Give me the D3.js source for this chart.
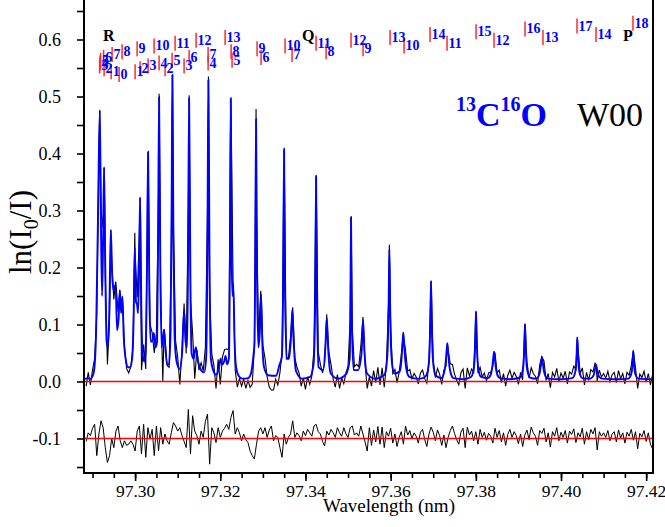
<!DOCTYPE html>
<html>
<head>
<meta charset="utf-8">
<script src="https://cdn.jsdelivr.net/npm/d3@7"></script>
<style>
  body { margin: 0; background: #fff; }
  svg { display: block; }
</style>
</head>
<body>
<svg id="chart" width="665" height="527"></svg>
<script>
// fitted model (blue), [wavelength nm, ln(I0/I)] vertices
const modelPoints = [
  [97.28803, .004], [97.28897, .006], [97.28944, .004], [97.28991, .008], [97.29038, .02], [97.29085, .09],
  [97.29131, .30], [97.29171, .476], [97.29202, .25], [97.29225, .15], [97.29249, .25], [97.29272, .376],
  [97.29300, .20], [97.29331, .07], [97.29366, .06], [97.29401, .15], [97.29430, .266], [97.29460, .19],
  [97.29495, .16], [97.29542, .17], [97.29577, .09], [97.29613, .11], [97.29641, .16], [97.29671, .12],
  [97.29702, .149], [97.29732, .08], [97.29777, .04], [97.29836, .025], [97.29883, .025], [97.29930, .04],
  [97.29965, .11], [97.29993, .235], [97.30021, .14], [97.30047, .135], [97.30070, .12], [97.30094, .2],
  [97.30117, .323], [97.30146, .13], [97.30176, .05], [97.30211, .035], [97.30246, .05], [97.30282, .22],
  [97.30305, .403], [97.30333, .16], [97.30364, .07], [97.30399, .07], [97.30439, .085], [97.30481, .06],
  [97.30516, .07], [97.30540, .25], [97.30563, .499], [97.30592, .2], [97.30622, .06], [97.30657, .08],
  [97.30681, .09], [97.30709, .06], [97.30751, .03], [97.30798, .03], [97.30833, .09], [97.30857, .3],
  [97.30876, .538], [97.30899, .25], [97.30927, .08], [97.30974, .035], [97.31045, .022], [97.31103, .05],
  [97.31150, .125], [97.31185, .07], [97.31221, .06], [97.31244, .22], [97.31268, .497], [97.31296, .2],
  [97.31326, .05], [97.31373, .04], [97.31425, .06], [97.31479, .035], [97.31549, .02], [97.31620, .016],
  [97.31667, .04], [97.31697, .22], [97.31721, .529], [97.31746, .22], [97.31779, .04], [97.31831, .02],
  [97.31901, .012], [97.31972, .025], [97.32007, .04], [97.32042, .03], [97.32089, .035], [97.32124, .045],
  [97.32160, .03], [97.32202, .04], [97.32225, .2], [97.32246, .497], [97.32270, .2], [97.32289, .15],
  [97.32307, .169], [97.32336, .07], [97.32371, .025], [97.32430, .01], [97.32512, .005], [97.32653, .006],
  [97.32723, .015], [97.32777, .045], [97.32805, .07], [97.32822, .22], [97.32840, .46], [97.32864, .18],
  [97.32894, .06], [97.32930, .09], [97.32958, .152], [97.32986, .07], [97.33028, .025], [97.33122, .011],
  [97.33310, .01], [97.33392, .03], [97.33444, .043], [97.33474, .15], [97.33498, .407], [97.33521, .15],
  [97.33561, .04], [97.33615, .04], [97.33662, .08], [97.33692, .125], [97.33723, .07], [97.33779, .018],
  [97.33920, .005], [97.34108, .008], [97.34190, .03], [97.34230, .15], [97.34249, .36], [97.34270, .15],
  [97.34308, .025], [97.34413, .02], [97.34467, .06], [97.34500, .112], [97.34531, .06], [97.34589, .015],
  [97.34765, .005], [97.34953, .013], [97.35040, .04], [97.35054, .12], [97.35070, .288], [97.35089, .11],
  [97.35129, .02], [97.35235, .02], [97.35317, .05], [97.35352, .108], [97.35387, .05], [97.35446, .014],
  [97.35634, .005],
  [97.35853, .012], [97.35900, .027], [97.35935, .068], [97.35954, .14], [97.35970, .232], [97.35986, .14],
  [97.36005, .068], [97.36040, .027], [97.36087, .014],
  [97.36216, .018], [97.36251, .036], [97.36275, .062], [97.36298, .0856], [97.36321, .062], [97.36345, .036],
  [97.36380, .018], [97.36439, .008], [97.36600, .005], [97.36760, .006],
  [97.36831, .010], [97.36878, .021], [97.36913, .052], [97.36932, .106], [97.36948, .176], [97.36964, .106],
  [97.36983, .052], [97.37018, .021], [97.37065, .010],
  [97.37190, .006], [97.37249, .014], [97.37284, .028], [97.37308, .048], [97.37331, .067], [97.37354, .048],
  [97.37378, .028], [97.37413, .014], [97.37472, .006], [97.37700, .004],
  [97.37888, .008], [97.37935, .016], [97.37970, .037], [97.37989, .075], [97.38005, .123], [97.38021, .075],
  [97.38040, .037], [97.38075, .016], [97.38122, .008],
  [97.38286, .006], [97.38345, .011], [97.38380, .022], [97.38404, .037], [97.38427, .052], [97.38450, .037],
  [97.38474, .022], [97.38509, .011], [97.38568, .006], [97.38800, .004],
  [97.39038, .007], [97.39085, .014], [97.39120, .031], [97.39139, .062], [97.39155, .101], [97.39171, .062],
  [97.39190, .031], [97.39225, .014], [97.39272, .007],
  [97.39413, .005], [97.39472, .009], [97.39507, .018], [97.39531, .030], [97.39554, .042], [97.39577, .030],
  [97.39601, .018], [97.39636, .009], [97.39695, .005], [97.40000, .004],
  [97.40266, .006], [97.40313, .011], [97.40348, .024], [97.40367, .048], [97.40383, .0775], [97.40399, .048],
  [97.40418, .024], [97.40453, .011], [97.40500, .006],
  [97.40681, .005], [97.40740, .008], [97.40775, .013], [97.40799, .022], [97.40822, .0295], [97.40845, .022],
  [97.40869, .013], [97.40904, .008], [97.40963, .005], [97.41300, .004],
  [97.41580, .005], [97.41627, .009], [97.41662, .018], [97.41681, .034], [97.41697, .054], [97.41713, .034],
  [97.41732, .018], [97.41767, .009], [97.41814, .005], [97.42160, .004]
]

// measured spectrum (black) and residual, sampled every 0.0005 nm from 97.2885 nm
const sampleStart = 97.2885
const sampleStep = 0.0005
const observed = [
  -0.008, 0.016, -0.006, 0.020, 0.040, 0.120, 0.408, 0.300, 0.270, 0.184,
  0.030, 0.110, 0.210, 0.144, 0.173, 0.122, 0.146, 0.131, 0.061, 0.023,
  0.015, 0.026, 0.060, 0.220, 0.148, 0.262, 0.020, 0.065, 0.022, 0.389,
  0.100, 0.086, 0.050, 0.084, 0.330, 0.159, 0.000, 0.078, 0.028, 0.025,
  0.230, 0.278, 0.072, 0.043, -0.005, 0.054, 0.137, 0.049, 0.310, 0.143,
  0.085, 0.005, 0.055, 0.020, 0.033, 0.019, 0.060, 0.300, 0.155, 0.049,
  0.028, -0.012, 0.039, -0.005, 0.043, 0.056, 0.057, 0.056, 0.490, 0.175,
  0.020, -0.010, 0.005, -0.008, 0.004, -0.012, 0.002, -0.010, -0.005, 0.060,
  0.290, 0.078, 0.159, 0.063, 0.041, 0.008, -0.010, -0.015, -0.015, 0.004,
  -0.006, 0.015, 0.050, 0.400, 0.040, 0.042, 0.078, 0.130, 0.042, 0.025,
  0.015, -0.008, 0.006, -0.014, 0.008, -0.005, 0.010, 0.057, 0.362, 0.052,
  0.030, 0.015, 0.032, 0.118, 0.051, 0.030, 0.004, -0.010, 0.012, -0.012,
  0.006, -0.004, 0.015, 0.027, 0.109, 0.090, 0.026, 0.030, 0.026, 0.062,
  0.113, 0.030, -0.012, 0.008, -0.008, 0.019, -0.002, 0.025, -0.006, 0.024,
  -0.010, 0.030, 0.134, 0.095, 0.014, 0.021, -0.002, 0.016, 0.047, 0.076,
  0.055, 0.018, 0.021, 0.005, 0.014, 0.008, -0.004, 0.015, 0.020, 0.005,
  -0.003, 0.035, 0.176, 0.036, 0.007, 0.023, 0.013, -0.005, 0.020, 0.027,
  0.054, 0.031, 0.030, 0.013, 0.002, -0.006, 0.015, 0.022, -0.012, 0.024,
  0.010, 0.022, 0.016, 0.120, 0.015, 0.025, 0.008, 0.015, 0.001, 0.015,
  0.016, 0.027, 0.050, 0.015, 0.020, -0.002, 0.014, -0.008, 0.011, 0.020,
  0.006, 0.016, 0.009, -0.005, 0.016, 0.003, 0.100, 0.035, 0.006, 0.024,
  0.014, 0.009, -0.004, 0.029, 0.045, 0.036, 0.002, 0.014, -0.011, 0.016,
  0.008, 0.023, 0.000, 0.015, 0.006, 0.018, -0.004, 0.017, 0.013, 0.027,
  0.021, 0.058, 0.014, 0.024, -0.006, 0.016, 0.002, 0.021, 0.017, 0.032,
  0.001, 0.020, 0.008, 0.014, 0.006, 0.018, 0.000, 0.012, 0.016, -0.002,
  0.019, 0.005, 0.014, -0.004, 0.016, 0.011, 0.028, 0.052, 0.023, -0.012,
  0.013, 0.007, 0.018, -0.001, 0.014, -0.006, 0.012
]
const residual = [
  -.105, -.090, -.095, -.082, -.075, -.130, -.092, -.069, -.081, -.116,
  -.142, -.130, -.100, -.116, -.087, -.078, -.104, -.116, -.104, -.112,
  -.110, -.104, -.110, -.122, -.087, -.078, -.127, -.075, -.133, -.081,
  -.101, -.084, -.130, -.078, -.122, -.081, -.110, -.092, -.104, -.110,
  -.090, -.072, -.078, -.087, -.081, -.095, -.105, -.116, -.049, -.127,
  -.060, -.087, -.095, -.110, -.087, -.098, -.070, -.057, -.145, -.081,
  -.090, -.107, -.081, -.098, -.087, -.082, -.075, -.084, -.063, -.051,
  -.092, -.081, -.090, -.104, -.092, -.102, -.107, -.122, -.130, -.136,
  -.110, -.087, -.081, -.092, -.081, -.098, -.085, -.078, -.104, -.095,
  -.098, -.116, -.133, -.092, -.110, -.098, -.092, -.069, -.098, -.090,
  -.095, -.104, -.087, -.095, -.084, -.090, -.096, -.078, -.075, -.088,
  -.092, -.105, -.113, -.087, -.094, -.084, -.090, -.098, -.081, -.090,
  -.096, -.081, -.092, -.098, -.081, -.078, -.094, -.090, -.096, -.078,
  -.092, -.106, -.122, -.081, -.112, -.085, -.106, -.079, -.110, -.080,
  -.116, -.088, -.096, -.082, -.108, -.092, -.114, -.098, -.088, -.110,
  -.078, -.094, -.086, -.100, -.090, -.096, -.108, -.089, -.084, -.102,
  -.114, -.092, -.080, -.089, -.104, -.085, -.095, -.112, -.094, -.116,
  -.098, -.086, -.078, -.091, -.102, -.110, -.089, -.082, -.116, -.080,
  -.094, -.087, -.104, -.088, -.110, -.084, -.098, -.089, -.103, -.091,
  -.096, -.108, -.082, -.098, -.086, -.106, -.090, -.112, -.093, -.084,
  -.098, -.088, -.095, -.109, -.092, -.114, -.094, -.085, -.102, -.080,
  -.090, -.096, -.112, -.086, -.091, -.082, -.106, -.090, -.115, -.088,
  -.096, -.081, -.104, -.089, -.098, -.086, -.108, -.087, -.093, -.083,
  -.107, -.090, -.097, -.082, -.110, -.088, -.102, -.084, -.092, -.081,
  -.120, -.088, -.096, -.090, -.098, -.086, -.104, -.092, -.088, -.106,
  -.085, -.099, -.090, -.108, -.089, -.096, -.084, -.103, -.088, -.118,
  -.091, -.097, -.086, -.105, -.090, -.110, -.118
]
// measured line maxima that fall between samples
const observedPeaks = [
  [97.29171, .476], [97.29272, .376], [97.29430, .266], [97.29542, .175], [97.29641, .160], [97.29702, .149],
  [97.29993, .261], [97.30117, .323], [97.30305, .403], [97.30563, .505], [97.30681, .092], [97.30876, .538],
  [97.31268, .502], [97.31721, .535], [97.32246, .497], [97.32307, .169], [97.32840, .478], [97.32958, .152],
  [97.33498, .410], [97.33692, .125], [97.34249, .361], [97.34500, .113], [97.35070, .290], [97.35352, .108],
  [97.35970, .240], [97.36298, .086], [97.36948, .176], [97.37331, .067], [97.38005, .123], [97.38427, .052],
  [97.39155, .101], [97.39554, .042], [97.40383, .078], [97.40822, .030], [97.41697, .054]
]

// line assignments, [J, wavelength nm]
const rBranch = [[0, 97.29624], [1, 97.29437], [2, 97.29272], [3, 97.29167], [4, 97.29178], [5, 97.29190],
  [6, 97.29261], [7, 97.29460], [8, 97.29695], [9, 97.30047], [10, 97.30446], [11, 97.30939], [12, 97.31432],
  [13, 97.32113]]
const qBranch = [[1, 97.30000], [2, 97.30117], [3, 97.30305], [4, 97.30563], [5, 97.30869], [6, 97.31268],
  [7, 97.31714], [8, 97.32254], [9, 97.32864], [10, 97.33521], [11, 97.34249], [12, 97.35070], [13, 97.35986],
  [14, 97.36925], [15, 97.38005], [16, 97.39155], [17, 97.40376], [18, 97.41690]]
const pBranch = [[2, 97.30704], [3, 97.31150], [4, 97.31714], [5, 97.32277], [6, 97.32958], [7, 97.33685],
  [8, 97.34484], [9, 97.35352], [10, 97.36315], [11, 97.37324], [12, 97.38427], [13, 97.39577], [14, 97.40822]]
const branchNames = [['R', 97.29249], ['Q', 97.33920], ['P', 97.41455]]

const xMajorTicks = [97.30, 97.32, 97.34, 97.36, 97.38, 97.40, 97.42]
const yMajorTicks = [-0.1, 0.0, 0.1, 0.2, 0.3, 0.4, 0.5, 0.6]
const yMinorTicks = [-0.15, -0.05, 0.05, 0.15, 0.25, 0.35, 0.45, 0.55, 0.65]

const FONT = "'Liberation Serif', 'Times New Roman', serif"
const margin = { top: 0, right: 12, bottom: 54, left: 84 }
const width = 665 - margin.left - margin.right
const height = 527 - margin.top - margin.bottom

const svg = d3.select('#chart')
const g = svg.append('g').attr('transform', `translate(${margin.left},${margin.top})`)

const xScale = d3.scaleLinear().domain([97.2880, 97.4216]).range([0, width])
const yScale = d3.scaleLinear().domain([-0.1605, 0.6693]).range([height, 0])

/**
 * Draws the measured spectrum, the fit, the residual and the two reference lines
 */
function drawSpectrum () {
  g.append('clipPath').attr('id', 'plot-clip')
    .append('rect').attr('width', width).attr('height', height)
  const plot = g.append('g').attr('clip-path', 'url(#plot-clip)')

  const line = d3.line().x(d => xScale(d[0])).y(d => yScale(d[1]))
  const samples = observed.map((v, i) => [sampleStart + i * sampleStep, v])
  const obsPoints = samples.concat(observedPeaks).sort((a, b) => a[0] - b[0])
  const resPoints = residual.map((v, i) => [sampleStart + i * sampleStep, v])

  plot.append('path').datum(obsPoints)
    .attr('d', line).attr('fill', 'none').attr('stroke', '#000').attr('stroke-width', 1.1)
  plot.append('path').datum(modelPoints)
    .attr('d', line.curve(d3.curveMonotoneX))
    .attr('fill', 'none').attr('stroke', '#0000ff').attr('stroke-width', 1.9)
  line.curve(d3.curveLinear)
  plot.append('path').datum(resPoints)
    .attr('d', line).attr('fill', 'none').attr('stroke', '#000').attr('stroke-width', 1)

  plot.selectAll('.ref').data([0, -0.1]).join('line')
    .attr('x1', 0).attr('x2', width)
    .attr('y1', d => yScale(d)).attr('y2', d => yScale(d))
    .attr('stroke', '#ff0000').attr('stroke-width', 1.4)
}

/**
 * Draws the frame, ticks and axis labels
 */
function drawAxes () {
  const styleAxis = (sel, size) => {
    sel.select('.domain').remove()
    sel.attr('font-family', FONT).attr('font-size', size)
    sel.selectAll('line').attr('stroke', '#000').attr('stroke-width', 1.6)
    sel.selectAll('text').attr('fill', '#000')
  }
  const xMinor = d3.range(27).map(i => 97.29 + i * 0.005)
  g.append('g').attr('transform', `translate(0,${height})`)
    .call(d3.axisBottom(xScale).tickValues(xMinor).tickSize(5).tickFormat(''))
    .call(styleAxis, 17.5)
  g.append('g').attr('transform', `translate(0,${height})`)
    .call(d3.axisBottom(xScale).tickValues(xMajorTicks).tickSize(8).tickPadding(4).tickFormat(d => d.toFixed(2)))
    .call(styleAxis, 17.5)
  g.append('g')
    .call(d3.axisLeft(yScale).tickValues(yMinorTicks).tickSize(7).tickFormat(''))
    .call(styleAxis, 18)
  g.append('g')
    .call(d3.axisLeft(yScale).tickValues(yMajorTicks).tickSize(7).tickPadding(16).tickFormat(d => d.toFixed(1)))
    .call(styleAxis, 18)

  g.append('path')
    .attr('d', `M0,0V${height}H${width}V0`)
    .attr('fill', 'none').attr('stroke', '#000').attr('stroke-width', 2)

  svg.append('text')
    .attr('x', 389).attr('y', 512).attr('text-anchor', 'middle')
    .attr('font-family', FONT).attr('font-size', 19)
    .text('Wavelength (nm)')

  const yTitle = svg.append('text')
    .attr('transform', 'translate(31,232) rotate(-90)').attr('text-anchor', 'middle')
    .attr('font-family', FONT).attr('font-size', 31)
  yTitle.append('tspan').text('ln(I')
  yTitle.append('tspan').attr('font-size', 20).attr('dy', 7).text('0')
  yTitle.append('tspan').attr('dy', -7).text('/I)')
}

/**
 * Draws the rotational assignments: a red stick and the J value, raised with J
 */
function drawAssignments () {
  const level = J => yScale(0.5395 + 0.005 * J)
  const all = rBranch.concat(qBranch, pBranch)
  const marks = g.append('g')
  marks.selectAll('line').data(all).join('line')
    .attr('x1', d => xScale(d[1])).attr('x2', d => xScale(d[1]))
    .attr('y1', d => level(d[0]) - 7).attr('y2', d => level(d[0]) + 8)
    .attr('stroke', '#ff2a2a').attr('stroke-width', 1.5)
  marks.selectAll('text').data(all).join('text')
    .attr('x', d => xScale(d[1]) + 1.5).attr('y', d => level(d[0]) + 5)
    .attr('font-family', FONT).attr('font-size', 14).attr('font-weight', 'bold')
    .attr('fill', '#0000ff')
    .text(d => d[0])

  g.append('g').selectAll('text').data(branchNames).join('text')
    .attr('x', d => xScale(d[1])).attr('y', yScale(0.5968))
    .attr('font-family', FONT).attr('font-size', 16).attr('font-weight', 'bold')
    .text(d => d[0])
}

/**
 * Draws the molecule / band title
 */
function drawTitle () {
  const t = svg.append('text')
    .attr('x', 456).attr('y', 126)
    .attr('font-family', FONT).attr('font-size', 34).attr('font-weight', 'bold').attr('fill', '#0000ff')
  t.append('tspan').attr('font-size', 20).attr('dy', -15).text('13')
  t.append('tspan').attr('dy', 15).text('C')
  t.append('tspan').attr('font-size', 20).attr('dy', -15).text('16')
  t.append('tspan').attr('dy', 15).text('O')
  svg.append('text')
    .attr('x', 577).attr('y', 126)
    .attr('font-family', FONT).attr('font-size', 34)
    .text('W00')
}

drawSpectrum()
drawAxes()
drawAssignments()
drawTitle()
</script>
</body>
</html>
